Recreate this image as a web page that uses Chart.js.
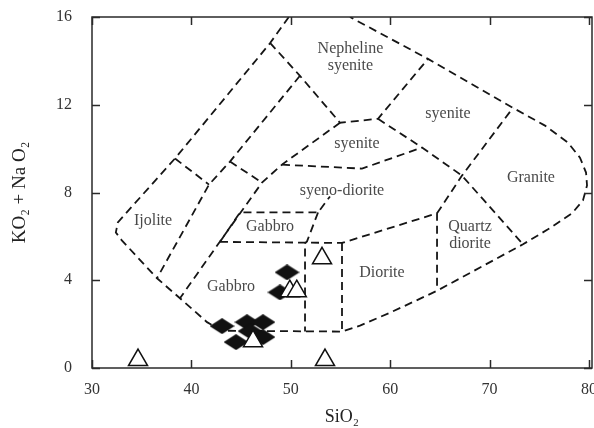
<!DOCTYPE html>
<html>
<head>
<meta charset="utf-8">
<script src="https://cdn.jsdelivr.net/npm/chart.js@4.4.0/dist/chart.umd.min.js"></script>
<style>
  html, body { margin: 0; padding: 0; background: #fff; }
</style>
</head>
<body>
<canvas id="tas" width="594" height="428"></canvas>
<script>
// TAS plutonic classification: SiO2 (x) against total alkalis (y), wt %
// field boundaries as [SiO2, alkalis] vertices
var outerLine = [[49.8,16],[47.9,14.8],[38.35,9.55],[32.6,6.64],[32.4,6.18],[33.0,5.82],[36.54,4.09],
  [38.85,3.18],[41.57,2.09],[43.1,1.7],[55.15,1.66],[56.96,1.93],[59.98,2.52],[64.71,3.52],
  [73.36,5.64],[75.87,6.32],[78.29,7.05],[79.39,7.64],[79.8,8.32],[79.7,8.91],[79.09,9.59],
  [77.89,10.27],[75.57,11.05],[72.35,11.86],[63.8,14.09],[55.95,16]];
var ijoliteTop = [[38.35,9.55],[41.77,8.36]];
var innerLeft = [[50.92,13.32],[43.88,9.41],[41.77,8.36],[36.54,4.09]];
var nephelineBase = [[47.91,14.82],[50.92,13.32],[54.95,11.18],[58.77,11.36],[63.8,14.09]];
var stripTie = [[43.88,9.41],[47.1,8.45]];
var gabbroLeft = [[54.95,11.18],[49.11,9.27],[47.1,8.45],[42.88,5.77],[38.85,3.18]];
var syeniteBase = [[49.11,9.27],[57.16,9.09],[63.2,10.05]];
var syeniteRight = [[58.77,11.36],[63.2,10.05],[67.22,8.77],[73.36,5.64]];
var graniteLeft = [[64.71,7.05],[67.22,8.77],[72.35,11.86]];
var dioriteTop = [[42.88,5.75],[55.15,5.7],[64.71,7.05],[64.71,3.52]];
var gabbroBox = [[42.88,5.75],[44.89,7.09],[52.74,7.09],[53.94,7.82]];
var gabbroRight = [[52.74,7.09],[51.63,5.77],[51.43,5.68],[51.43,1.66]];
var dioriteLeft = [[55.15,5.7],[55.15,1.66]];

// samples
var diamondSi  = [49.62, 48.91, 43.08, 45.59, 47.20, 45.90, 44.49, 47.20];
var diamondAlk = [4.36, 3.45, 1.91, 2.09, 2.09, 1.68, 1.18, 1.41];
var triangleSi  = [53.14, 49.90, 50.60, 46.20, 34.63, 53.44];
var triangleAlk = [5.00, 3.50, 3.50, 1.22, 0.36, 0.36];

// field names and where they sit
var fieldNames = [
  { text: ['Nepheline', 'syenite'], si: 56.0, alk: 14.16 },
  { text: ['syenite'], si: 65.81, alk: 11.59 },
  { text: ['syenite'], si: 56.66, alk: 10.23 },
  { text: ['syeno-diorite'], si: 55.15, alk: 8.09 },
  { text: ['Granite'], si: 74.16, alk: 8.68 },
  { text: ['Ijolite'], si: 36.14, alk: 6.73 },
  { text: ['Gabbro'], si: 47.91, alk: 6.45 },
  { text: ['Gabbro'], si: 43.98, alk: 3.68 },
  { text: ['Diorite'], si: 59.17, alk: 4.36 },
  { text: ['Quartz', 'diorite'], si: 68.03, alk: 6.05 }
];

var xTicks = [30, 40, 50, 60, 70, 80];
var yTicks = [0, 4, 8, 12, 16];

var SERIF = "'Liberation Serif', 'Times New Roman', serif";

function pts(arr) {
  return arr.map(function (p) { return { x: p[0], y: p[1] }; });
}

function pairs(xs, ys) {
  return xs.map(function (v, i) { return { x: v, y: ys[i] }; });
}

function diamondSprite(w, h) {
  var c = document.createElement('canvas');
  c.width = w; c.height = h;
  var g = c.getContext('2d');
  g.fillStyle = '#111';
  g.beginPath();
  g.moveTo(w / 2, 0); g.lineTo(w, h / 2); g.lineTo(w / 2, h); g.lineTo(0, h / 2);
  g.closePath();
  g.fill();
  return c;
}

function boundary(arr) {
  return {
    type: 'scatter',
    data: pts(arr),
    showLine: true,
    borderColor: '#151515',
    borderWidth: 1.8,
    borderDash: [8, 5],
    pointRadius: 0,
    fill: false,
    tension: 0,
    order: 3
  };
}

// frame, inward ticks and the field names
var decorations = {
  id: 'decorations',
  beforeDatasetsDraw: function (chart) {
    var ctx = chart.ctx, sx = chart.scales.x, sy = chart.scales.y;
    ctx.save();
    ctx.fillStyle = '#4a4a4a';
    ctx.font = '16px ' + SERIF;
    ctx.textAlign = 'center';
    ctx.textBaseline = 'middle';
    fieldNames.forEach(function (f) {
      var px = sx.getPixelForValue(f.si), py = sy.getPixelForValue(f.alk);
      var top = py - (f.text.length - 1) * 8.5;
      f.text.forEach(function (t, i) { ctx.fillText(t, px, top + i * 17); });
    });
    ctx.restore();
  },
  afterDraw: function (chart) {
    var ctx = chart.ctx, a = chart.chartArea, sx = chart.scales.x, sy = chart.scales.y;
    ctx.save();
    ctx.strokeStyle = '#2a2a2a';
    ctx.lineWidth = 1.5;
    ctx.strokeRect(a.left, a.top, a.right - a.left, a.bottom - a.top);
    ctx.beginPath();
    xTicks.forEach(function (v) {
      var px = Math.round(sx.getPixelForValue(v)) + 0.5;
      ctx.moveTo(px, a.bottom); ctx.lineTo(px, a.bottom - 8);
      ctx.moveTo(px, a.top); ctx.lineTo(px, a.top + 8);
    });
    yTicks.forEach(function (v) {
      var py = Math.round(sy.getPixelForValue(v)) + 0.5;
      ctx.moveTo(a.left, py); ctx.lineTo(a.left + 8, py);
      ctx.moveTo(a.right, py); ctx.lineTo(a.right - 8, py);
    });
    ctx.stroke();
    ctx.restore();
  }
};

var datasets = [
  {
    type: 'scatter',
    label: 'triangles',
    data: pairs(triangleSi, triangleAlk),
    pointStyle: 'triangle',
    pointRadius: 11,
    backgroundColor: '#ffffff',
    borderColor: '#111',
    borderWidth: 1.5,
    order: 1
  },
  {
    type: 'scatter',
    label: 'diamonds',
    data: pairs(diamondSi, diamondAlk),
    pointStyle: diamondSprite(25, 16),
    pointRadius: 10,
    order: 2
  }
].concat([outerLine, ijoliteTop, innerLeft, nephelineBase, stripTie, gabbroLeft, syeniteBase,
  syeniteRight, graniteLeft, dioriteTop, gabbroBox, gabbroRight, dioriteLeft].map(boundary));

new Chart(document.getElementById('tas').getContext('2d'), {
  type: 'scatter',
  data: { datasets: datasets },
  options: {
    responsive: false,
    animation: false,
    devicePixelRatio: 1,
    layout: { autoPadding: false, padding: { top: 17, right: 2, left: 0, bottom: 0 } },
    plugins: { legend: { display: false }, tooltip: { enabled: false } },
    scales: {
      x: {
        type: 'linear',
        min: 30,
        max: 80.3,
        grid: { display: false, drawTicks: false },
        border: { display: false },
        ticks: {
          stepSize: 10,
          includeBounds: false,
          padding: 12,
          color: '#333',
          font: { family: SERIF, size: 16 },
          maxRotation: 0
        },
        title: {
          display: true,
          text: 'SiO₂',
          color: '#222',
          font: { family: SERIF, size: 18 },
          padding: { top: 0, bottom: 0 }
        },
        afterFit: function (s) { s.height = 60; s.paddingLeft = 0; s.paddingRight = 0; }
      },
      y: {
        type: 'linear',
        min: 0,
        max: 16,
        grid: { display: false, drawTicks: false },
        border: { display: false },
        ticks: {
          stepSize: 4,
          padding: 20,
          color: '#333',
          font: { family: SERIF, size: 16 }
        },
        title: {
          display: true,
          text: 'KO₂ + Na O₂',
          color: '#222',
          font: { family: SERIF, size: 19 },
          padding: { top: 9, bottom: 0 }
        },
        afterFit: function (s) { s.width = 92; s.paddingTop = 0; s.paddingBottom = 0; }
      }
    }
  },
  plugins: [decorations]
});
</script>
</body>
</html>
